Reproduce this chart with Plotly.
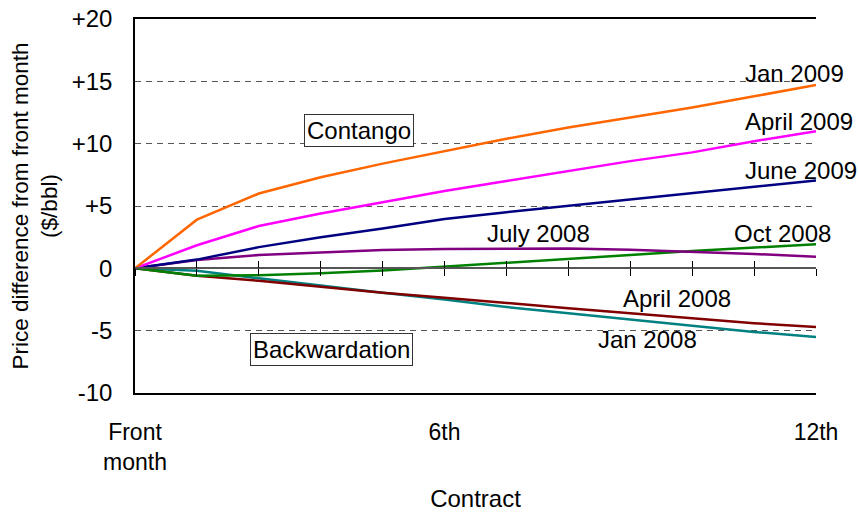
import plotly.graph_objects as go

contracts = [1, 2, 3, 4, 5, 6, 7, 8, 9, 10, 11, 12]
tick_vals = [1, 6, 12]
tick_text = ["Front<br>month", "6th", "12th"]
y_tick_vals = [-10, -5, 0, 5, 10, 15, 20]
y_tick_text = ["-10", "-5", "0", "+5", "+10", "+15", "+20"]

jan_2009 = [0, 3.9, 6.0, 7.3, 8.4, 9.4, 10.4, 11.3, 12.1, 12.9, 13.8, 14.7]
april_2009 = [0, 1.85, 3.4, 4.4, 5.3, 6.2, 7.0, 7.8, 8.6, 9.3, 10.2, 11.0]
june_2009 = [0, 0.7, 1.7, 2.5, 3.2, 3.95, 4.5, 5.0, 5.5, 6.0, 6.5, 7.05]
july_2008 = [0, 0.67, 1.07, 1.28, 1.47, 1.55, 1.6, 1.6, 1.5, 1.35, 1.15, 0.93]
oct_2008 = [0, -0.6, -0.55, -0.4, -0.18, 0.12, 0.42, 0.77, 1.07, 1.39, 1.65, 1.93]
april_2008 = [0, -0.6, -1.0, -1.5, -1.95, -2.35, -2.8, -3.2, -3.6, -4.0, -4.4, -4.7]
jan_2008 = [0, -0.2, -0.8, -1.4, -1.95, -2.5, -3.1, -3.6, -4.1, -4.6, -5.1, -5.5]

series = [
    ("Jan 2008", jan_2008, "#008080", 9.28, -5.71),
    ("April 2008", april_2008, "#800000", 9.75, -2.38),
    ("Oct 2008", oct_2008, "#008000", 11.46, 2.83),
    ("July 2008", july_2008, "#800080", 7.52, 2.83),
    ("June 2009", june_2009, "#000080", 11.75, 7.88),
    ("April 2009", april_2009, "#FF00FF", 11.72, 11.76),
    ("Jan 2009", jan_2009, "#FF6600", 11.65, 15.66),
]

regions = [("Contango", 4.62, 11.09), ("Backwardation", 4.18, -6.55)]

FONT = "Liberation Sans, Arial, sans-serif"
FS = 24

fig = go.Figure()
for name, vals, color, lx, ly in series:
    fig.add_trace(go.Scatter(x=contracts, y=vals, mode="lines", name=name,
                             line=dict(color=color, width=2.5), showlegend=False,
                             cliponaxis=False))

# invisible traces to host the zero-line crossing ticks
for ax in ["x2", "x3"]:
    fig.add_trace(go.Scatter(x=contracts, y=[0] * len(contracts), xaxis=ax, mode="lines",
                             line=dict(width=0), hoverinfo="skip", showlegend=False))

for name, vals, color, lx, ly in series:
    fig.add_annotation(x=lx, y=ly, text=name, showarrow=False,
                       font=dict(family=FONT, size=FS, color="black"),
                       xanchor="center", yanchor="middle")

for text, rx, ry in regions:
    fig.add_annotation(x=rx, y=ry, text=text, showarrow=False,
                       font=dict(family=FONT, size=FS, color="black"),
                       bgcolor="white", bordercolor="#333333", borderwidth=1, borderpad=2,
                       xanchor="center", yanchor="middle")

zero_pos = (0 - y_tick_vals[0]) / (y_tick_vals[-1] - y_tick_vals[0])

fig.update_layout(
    width=858, height=512,
    margin=dict(l=135, r=42, t=19, b=119),
    paper_bgcolor="white", plot_bgcolor="white",
    font=dict(family=FONT, size=FS, color="black"),
    xaxis=dict(range=[1, 12], tickvals=tick_vals, ticktext=tick_text, ticks="",
               showgrid=False, zeroline=False, showline=True, linecolor="black",
               linewidth=1.5, mirror=True, ticklabelstandoff=18, automargin=False,
               tickfont=dict(size=23),
               title=dict(text="Contract", standoff=20, font=dict(size=24))),
    xaxis2=dict(range=[1, 12], overlaying="x", anchor="free", position=zero_pos,
                tickvals=contracts, ticks="outside", ticklen=7, tickcolor="black",
                showticklabels=False, showgrid=False, zeroline=False, automargin=False,
                showline=True, linecolor="#555555", linewidth=1.5),
    xaxis3=dict(range=[1, 12], overlaying="x", anchor="free", position=zero_pos,
                tickvals=contracts, ticks="inside", ticklen=7, tickcolor="black",
                showticklabels=False, showgrid=False, zeroline=False, showline=False,
                automargin=False),
    yaxis=dict(range=[-10, 20], tickvals=y_tick_vals, ticktext=y_tick_text, ticks="",
               showgrid=True, gridcolor="#555555", griddash="6px,5px", gridwidth=1,
               zeroline=False, showline=True, linecolor="black", linewidth=1.5,
               ticklabelstandoff=16, automargin=False,
               title=dict(text="Price difference from front month<br>($/bbl)",
                          standoff=8, font=dict(size=22.5))),
)

fig.write_html("out.html", config={"displayModeBar": False},
               post_script="document.body.style.margin='0';")
